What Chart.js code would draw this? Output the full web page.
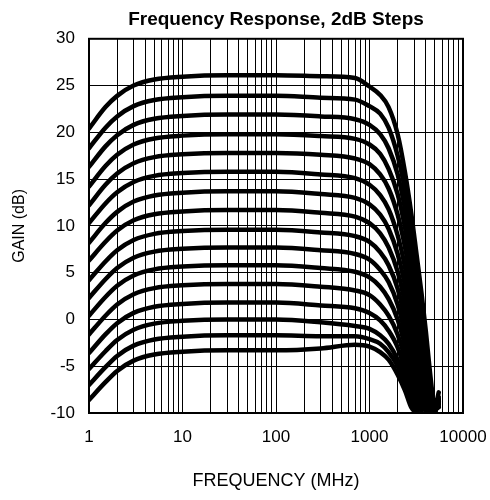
<!DOCTYPE html>
<html><head><meta charset="utf-8">
<script src="https://cdn.jsdelivr.net/npm/chart.js@4.4.1/dist/chart.umd.min.js"></script>
<style>html,body{margin:0;padding:0;background:#fff}#wrap{width:490px;height:500px}</style>
</head><body><div id="wrap"><canvas id="c"></canvas></div>
<script>
const freqMHz = [1,1.5,2,3,5,10,30,100,300,700,1000,1300,1600,2000,2400,2800,3200,3600,4000,4500,5000,5500];
const gain01 = [20.4,22.7,23.9,25.0,25.65,25.95,26.1,26.1,26.0,25.8,24.9,24.0,22.7,19.8,15.7,11.3,6.8,2.8,-1.2,-6.2,-9.4,-7.8];
const gain02 = [18.3,20.5,21.7,22.8,23.45,23.75,23.9,23.9,23.7,23.5,22.8,22.0,20.5,17.5,13.8,9.6,5.0,0.8,-3.2,-7.8,-9.6,-8.3];
const gain03 = [16.3,18.5,19.7,20.8,21.45,21.75,21.9,21.9,21.7,21.4,20.8,19.8,18.3,15.5,11.8,7.8,3.3,-0.8,-4.6,-8.8,-9.7,-8.6];
const gain04 = [14.2,16.4,17.6,18.7,19.35,19.65,19.8,19.8,19.6,19.3,18.7,17.7,16.1,13.4,9.8,5.8,1.5,-2.6,-6.2,-9.4,-9.8,-8.8];
const gain05 = [12.2,14.4,15.6,16.7,17.35,17.65,17.8,17.8,17.6,17.2,16.6,15.5,14.0,11.2,7.7,3.8,-0.4,-4.6,-7.8,-9.7,-9.0,-8.5];
const gain06 = [10.3,12.4,13.6,14.7,15.35,15.65,15.8,15.8,15.5,15.1,14.4,13.3,11.8,9.0,5.6,1.8,-2.4,-6.4,-9.0,-9.8,-8.7,-9.3];
const gain07 = [8.2,10.3,11.5,12.6,13.25,13.55,13.7,13.7,13.4,13.0,12.3,11.2,9.7,7.0,3.6,-0.2,-4.3,-8.0,-9.7,-8.8,-9.5,-8.6];
const gain08 = [6.3,8.3,9.5,10.6,11.25,11.55,11.7,11.7,11.4,11.0,10.3,9.2,7.7,5.1,1.7,-2.0,-6.0,-9.2,-9.0,-9.6,-8.9,-9.4];
const gain09 = [4.2,6.2,7.4,8.5,9.15,9.45,9.6,9.6,9.3,8.9,8.3,7.2,5.8,3.3,0.0,-3.6,-7.4,-9.8,-8.7,-9.5,-9.8,-8.6];
const gain10 = [2.3,4.3,5.5,6.6,7.25,7.55,7.7,7.7,7.4,7.0,6.4,5.3,4.0,1.6,-1.5,-5.0,-8.6,-9.5,-8.9,-9.8,-9.2,-8.8];
const gain11 = [0.4,2.4,3.6,4.7,5.35,5.65,5.8,5.8,5.5,5.1,4.5,3.5,2.2,0.0,-2.9,-6.3,-9.4,-8.8,-9.6,-8.7,-9.8,-8.5];
const gain12 = [-1.6,0.4,1.6,2.7,3.35,3.65,3.8,3.8,3.5,3.1,2.6,1.6,0.4,-1.6,-4.2,-7.3,-9.8,-9.0,-9.5,-8.8,-9.7,-9.0];
const gain13 = [-3.6,-1.6,-0.4,0.7,1.35,1.65,1.8,1.8,1.5,1.2,0.7,-0.1,-1.2,-3.0,-5.5,-8.2,-9.6,-8.9,-9.8,-9.0,-9.4,-8.7];
const gain14 = [-5.3,-3.4,-2.2,-1.1,-0.45,-0.15,0.0,0.0,-0.3,-0.7,-1.0,-1.7,-2.6,-4.3,-6.5,-8.9,-9.8,-9.2,-9.6,-8.6,-9.8,-9.1];
const gain15 = [-7.0,-5.1,-3.9,-2.8,-2.15,-1.85,-1.7,-1.7,-1.8,-1.8,-2.1,-2.6,-3.5,-5.0,-7.0,-9.2,-9.7,-8.8,-9.5,-9.0,-9.7,-8.9];
const gain16 = [-8.6,-6.7,-5.5,-4.4,-3.75,-3.45,-3.3,-3.3,-3.1,-2.7,-2.9,-3.5,-4.3,-5.9,-7.6,-9.4,-9.9,-8.7,-9.4,-8.8,-9.8,-8.6];
const allGains = [gain01,gain02,gain03,gain04,gain05,gain06,gain07,gain08,gain09,gain10,gain11,gain12,gain13,gain14,gain15,gain16];

const xGridValues = [1,2,3,4,5,6,7,8,9,10,20,30,40,50,60,70,80,90,100,200,300,400,500,600,700,800,900,1000,2000,3000,4000,5000,6000,7000,8000,9000,10000];
const xLabelValues = [1,10,100,1000,10000];
const yMin = -10, yMax = 30, yStep = 5;

const FAM = '"Liberation Sans", Arial, Helvetica, sans-serif';

const datasets = allGains.map((g, k) => ({
  label: 'step ' + (k + 1),
  data: g.map((v, i) => ({x: freqMHz[i], y: v})),
  borderColor: '#000',
  borderWidth: 4.5,
  pointRadius: 0,
  fill: false,
  cubicInterpolationMode: 'monotone',
  borderCapStyle: 'round',
  borderJoinStyle: 'round'
}));

const frame = {
  id: 'frame',
  afterLayout(chart) {
    const t = chart.titleBlock;
    if (t) { t.left = chart.chartArea.left; t.right = chart.chartArea.right; }
  },
  afterDraw(chart) {
    const {ctx, chartArea: a} = chart;
    ctx.save();
    ctx.strokeStyle = '#000';
    ctx.lineWidth = 2;
    ctx.strokeRect(a.left, a.top, a.right - a.left, a.bottom - a.top);
    ctx.restore();
  }
};

new Chart(document.getElementById('c'), {
  type: 'line',
  data: {datasets},
  plugins: [frame],
  options: {
    responsive: true,
    maintainAspectRatio: false,
    animation: false,
    layout: {padding: {left: 5, right: 27, top: 0, bottom: 0}},
    plugins: {
      legend: {display: false},
      tooltip: {enabled: false},
      title: {
        display: true,
        text: 'Frequency Response, 2dB Steps',
        color: '#000',
        font: {family: FAM, size: 19, weight: 'bold'},
        padding: {top: 8, bottom: 8}
      }
    },
    scales: {
      x: {
        type: 'logarithmic',
        min: 1, max: 10000,
        afterBuildTicks: s => { s.ticks = xGridValues.map(v => ({value: v})); },
        afterFit: s => { s.height = 87; s.paddingLeft = 0; s.paddingRight = 0; },
        ticks: {
          autoSkip: false, maxRotation: 0, padding: 14, color: '#000',
          font: {family: FAM, size: 17},
          callback: v => xLabelValues.includes(v) ? String(v) : ''
        },
        grid: {color: '#000', lineWidth: 1, drawTicks: false},
        border: {display: false},
        title: {display: true, text: 'FREQUENCY (MHz)', color: '#000',
          font: {family: FAM, size: 18}, padding: {top: 4, bottom: 8}}
      },
      y: {
        min: yMin, max: yMax,
        afterFit: s => { s.width = 84; },
        ticks: {stepSize: yStep, padding: 14, color: '#000', font: {family: FAM, size: 17}},
        grid: {color: '#000', lineWidth: 1, drawTicks: false},
        border: {display: false},
        title: {display: true, text: 'GAIN (dB)', color: '#000',
          font: {family: FAM, size: 16}, padding: {top: 5, bottom: 4}}
      }
    }
  }
});
</script></body></html>
